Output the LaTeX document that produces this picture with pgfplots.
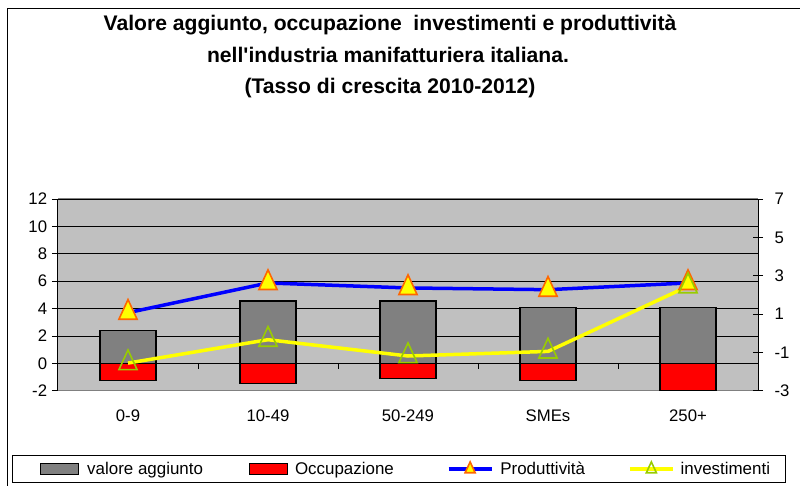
\documentclass[border=0pt]{standalone}
\usepackage{fontspec}
\setmainfont{Liberation Sans}
\usepackage{pgfplots}
\pgfplotsset{compat=1.18}

\definecolor{bgGray}{HTML}{C0C0C0}
\definecolor{barGray}{HTML}{808080}
\definecolor{barRed}{HTML}{FF0000}
\definecolor{lineBlue}{HTML}{0000FF}
\definecolor{lineYellow}{HTML}{FFFF00}
\definecolor{markOrange}{HTML}{FF6600}
\definecolor{markGreen}{HTML}{99CC00}

\pgfplotsset{
  barlegend/.style={legend image code/.code={\draw[##1] (0bp,-5.3bp) rectangle (38bp,5.3bp);}},
  linelegend/.style={legend image code/.code={\draw[mark repeat=2,mark phase=2,##1,every mark/.append style={scale=0.55}] plot coordinates {(0bp,0bp) (21.5bp,0bp) (43bp,0bp)};}},
}

\pgfplotstableread{
x  va     occ    prod   inv
0  2.38  -1.24   1.07  -1.56
1  4.55  -1.49   2.62  -0.34
2  4.55  -1.12   2.36  -1.19
3  4.06  -1.24   2.27  -0.95
4  4.06  -2.00   2.62   2.45
}\datatable

\begin{document}
\begin{tikzpicture}
\path[use as bounding box] (0bp,0bp) rectangle (800bp,486bp);
\draw[line width=1.3bp] (7.3bp,-5bp) -- (7.3bp,477.7bp) -- (805bp,477.7bp);

\begin{scope}[every node/.style={font=\fontsize{21.2}{25}\selectfont\bfseries, anchor=base}]
\node at (390bp,455bp) {Valore aggiunto, occupazione\ \ investimenti e produttività};
\node at (388bp,423.5bp) {nell\textquotesingle industria manifatturiera italiana.};
\node at (390bp,392bp) {(Tasso di crescita 2010-2012)};
\end{scope}

\draw[line width=1bp] (12.7bp,3bp) rectangle (785bp,30bp);

\begin{axis}[
  at={(58bp,95.3bp)}, anchor=south west,
  scale only axis, width=700bp, height=191.7bp,
  xmin=-0.5, xmax=4.5, ymin=-2, ymax=12,
  axis x line*=bottom, axis y line*=left,
  axis line style={-},
  x axis line style={draw=barGray, line width=1bp},
  y axis line style={draw=black, line width=1bp},
  xtick={0,...,4}, xticklabels={0-9,10-49,50-249,SMEs,250+},
  xtick style={draw=none},
  ytick={-2,0,...,12},
  ymajorgrids, major grid style={black, line width=0.8bp},
  tick align=outside, major tick length=6bp,
  ytick style={black, line width=0.8bp},
  axis background/.style={fill=bgGray},
  tick label style={font=\fontsize{16.8}{19}\selectfont},
  /pgf/number format/assume math mode=true,
  xticklabel style={yshift=-10bp},
  yticklabel style={xshift=-1.4bp},
]
\draw[barGray, line width=1bp] (rel axis cs:0,1) -- (rel axis cs:1,1);
\draw[barGray, line width=1bp] (rel axis cs:0,0) -- (rel axis cs:1,0);
\addplot[ybar, bar width=56bp, bar shift=0pt, fill=barGray, draw=black, line width=1.2bp] table[x=x, y=va] {\datatable};
\addplot[ybar, bar width=56bp, bar shift=0pt, fill=barRed, draw=black, line width=1.2bp] table[x=x, y=occ] {\datatable};
\pgfplotsinvokeforeach{0.5,1.5,2.5,3.5}{\draw[black, line width=0.8bp] (axis cs:#1,0) -- ++(0bp,-5.5bp);}
\end{axis}

\begin{axis}[
  at={(58bp,95.3bp)}, anchor=south west,
  scale only axis, width=700bp, height=191.7bp,
  xmin=-0.5, xmax=4.5, ymin=-3, ymax=7,
  axis x line=none, axis y line*=right,
  axis line style={-, black, line width=1bp},
  ytick={-3,-1,...,7},
  tick align=center, major tick length=10bp,
  ytick style={black, line width=0.8bp},
  tick label style={font=\fontsize{16.8}{19}\selectfont},
  /pgf/number format/assume math mode=true,
  yticklabel style={xshift=8bp},
  legend columns=4,
  legend style={draw=none, fill=none, at={(-0.0257,-0.4085)}, anchor=west,
    font=\fontsize{17}{20}\selectfont, inner sep=0pt, nodes={inner sep=0pt},
    /tikz/column 1/.style={column sep=8bp},
    /tikz/column 2/.style={column sep=46bp},
    /tikz/column 3/.style={column sep=7bp},
    /tikz/column 4/.style={column sep=53bp},
    /tikz/column 5/.style={column sep=7bp},
    /tikz/column 6/.style={column sep=43bp},
    /tikz/column 7/.style={column sep=6bp}},
  legend cell align=left,
]
\addlegendimage{fill=barGray, draw=black, line width=1bp, barlegend}
\addlegendentry{valore aggiunto}
\addlegendimage{fill=barRed, draw=black, line width=1bp, barlegend}
\addlegendentry{Occupazione}
\addplot[color=lineBlue, line width=3.5bp, mark=triangle*, mark size=10.5bp,
  mark options={fill=lineYellow, draw=markOrange, line width=1.6bp, yscale=1.25, solid}, linelegend]
  table[x=x, y=prod] {\datatable};
\addlegendentry{Produttività}
\addplot[color=lineYellow, line width=3.5bp, mark=triangle, mark size=10.5bp,
  mark options={draw=markGreen, line width=1.6bp, yscale=1.25, solid}, linelegend]
  table[x=x, y=inv] {\datatable};
\addlegendentry{investimenti}
\end{axis}
\end{tikzpicture}
\end{document}
